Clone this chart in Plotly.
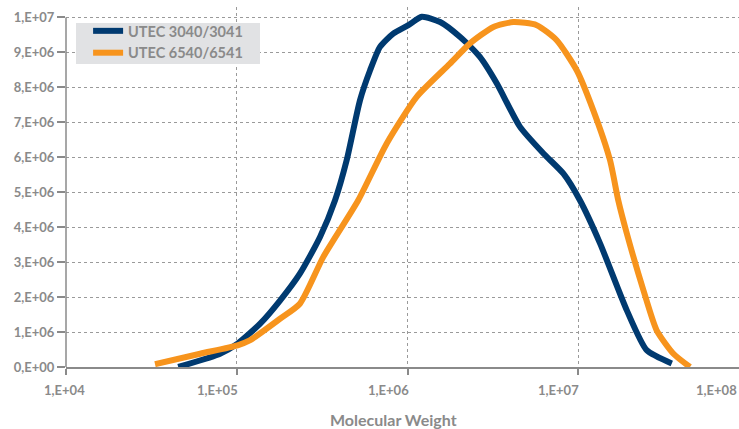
import math
import plotly.graph_objects as go

# ---- data ----
blue_name = "UTEC 3040/3041"
blue_x = [45400, 79800, 101000, 137000, 179000, 234000, 307000, 376000, 440000,
          526000, 603000, 689000, 824000, 1010000, 1210000, 1550000, 2030000,
          2650000, 3330000, 4550000, 6240000, 8170000, 10200000, 13400000,
          19200000, 25100000, 35200000]
blue_y = [0, 0.38e6, 0.67e6, 1.24e6, 1.9e6, 2.67e6, 3.72e6, 4.77e6, 5.92e6,
          7.63e6, 8.49e6, 9.16e6, 9.54e6, 9.78e6, 10.02e6, 9.87e6, 9.44e6,
          8.87e6, 8.11e6, 6.87e6, 6.11e6, 5.53e6, 4.77e6, 3.53e6,
          1.62e6, 0.48e6, 0.1e6]

orange_name = "UTEC 6540/6541"
orange_x = [33200, 61000, 101000, 119000, 179000, 234000, 321000, 514000,
            753000, 1130000, 1770000, 2320000, 3180000, 4160000, 5700000,
            7460000, 9770000, 12200000, 15300000, 17100000, 19200000,
            24000000, 28700000, 36000000, 45000000]
orange_y = [0.08e6, 0.38e6, 0.62e6, 0.76e6, 1.38e6, 1.81e6, 3.15e6, 4.77e6,
            6.39e6, 7.73e6, 8.68e6, 9.26e6, 9.73e6, 9.87e6, 9.78e6, 9.35e6,
            8.49e6, 7.35e6, 5.92e6, 4.77e6, 3.82e6, 2.2e6, 1.05e6, 0.38e6, 0]

x_tick_vals = [1e4, 1e5, 1e6, 1e7]
x_tick_text = ["1,E+04", "1,E+05", "1,E+06", "1,E+07"]
x_last_tick_text = "1,E+08"
y_tick_vals = [i * 1e6 for i in range(11)]
y_tick_text = ["0,E+00", "1,E+06", "2,E+06", "3,E+06", "4,E+06", "5,E+06",
               "6,E+06", "7,E+06", "8,E+06", "9,E+06", "1,E+07"]
x_title = "Molecular Weight"

BLUE = "#003a70"
ORANGE = "#f7941d"
GREY = "#8a8a8a"
GRID = "#9a9a9a"
FONT = "Lato"
TICKFONT = dict(family=FONT, size=13, color=GREY, weight="bold")

fig = go.Figure()
fig.add_trace(go.Scatter(x=blue_x, y=blue_y, name=blue_name, mode="lines",
                         line=dict(color=BLUE, width=6, shape="spline", smoothing=0.6)))
fig.add_trace(go.Scatter(x=orange_x, y=orange_y, name=orange_name, mode="lines",
                         line=dict(color=ORANGE, width=6, shape="spline", smoothing=0.6)))

annotations = []
for v, t in zip(x_tick_vals, x_tick_text):
    first = v == x_tick_vals[0]
    annotations.append(dict(x=math.log10(v), y=0, xref="x", yref="y", text=t,
                            showarrow=False,
                            xanchor="center" if first else "right",
                            yanchor="top", xshift=-2 if first else 3, yshift=-13,
                            font=TICKFONT))
annotations.append(dict(x=1, y=0, xref="paper", yref="y", text=x_last_tick_text,
                        showarrow=False, xanchor="right", yanchor="top", yshift=-13,
                        font=TICKFONT))
annotations.append(dict(x=0.486, y=-0.145, xref="paper", yref="paper", text=x_title,
                        showarrow=False, xanchor="center", yanchor="middle",
                        font=dict(family=FONT, size=16, color=GREY, weight="bold")))

fig.update_layout(
    width=739, height=429,
    margin=dict(l=66, r=0, t=7, b=62),
    plot_bgcolor="white", paper_bgcolor="white",
    font=dict(family=FONT, size=13, color=GREY),
    showlegend=True,
    legend=dict(x=0.015, y=0.978, xanchor="left", yanchor="top",
                bgcolor="rgba(0,0,0,0)", borderwidth=0, indentation=12,
                font=dict(family=FONT, size=14.5, color=GREY, weight="bold"),
                tracegroupgap=0),
    annotations=annotations,
    shapes=[
        # legend background panel
        dict(type="rect", xref="paper", yref="paper", x0=0.0149, x1=0.2883,
             y0=0.8417, y1=0.9556, fillcolor="#e1e2e4", line=dict(width=0),
             layer="above"),
        # y axis line
        dict(type="line", xref="paper", yref="y", x0=0, x1=0, y0=0, y1=1e7,
             line=dict(color=GREY, width=1.5), layer="above"),
    ],
)

fig.update_xaxes(
    type="log", range=[4, 7.94], automargin=False,
    tickvals=x_tick_vals, showticklabels=False,
    ticks="outside", ticklen=6, tickcolor=GREY, tickwidth=1.5,
    showline=True, linecolor=GREY, linewidth=1.5,
    showgrid=True, gridcolor=GRID, griddash="dot", gridwidth=1,
    zeroline=False,
)
fig.update_yaxes(
    range=[0, 1.03e7], automargin=False,
    tickvals=y_tick_vals, ticktext=y_tick_text,
    ticks="outside", ticklen=8, tickcolor=GREY, tickwidth=1.5,
    showline=False,
    showgrid=True, gridcolor=GRID, griddash="dot", gridwidth=1,
    zeroline=False,
    tickfont=TICKFONT,
)

fig.write_html("out.html", config={"displayModeBar": False},
               post_script="document.body.style.margin='0';")
